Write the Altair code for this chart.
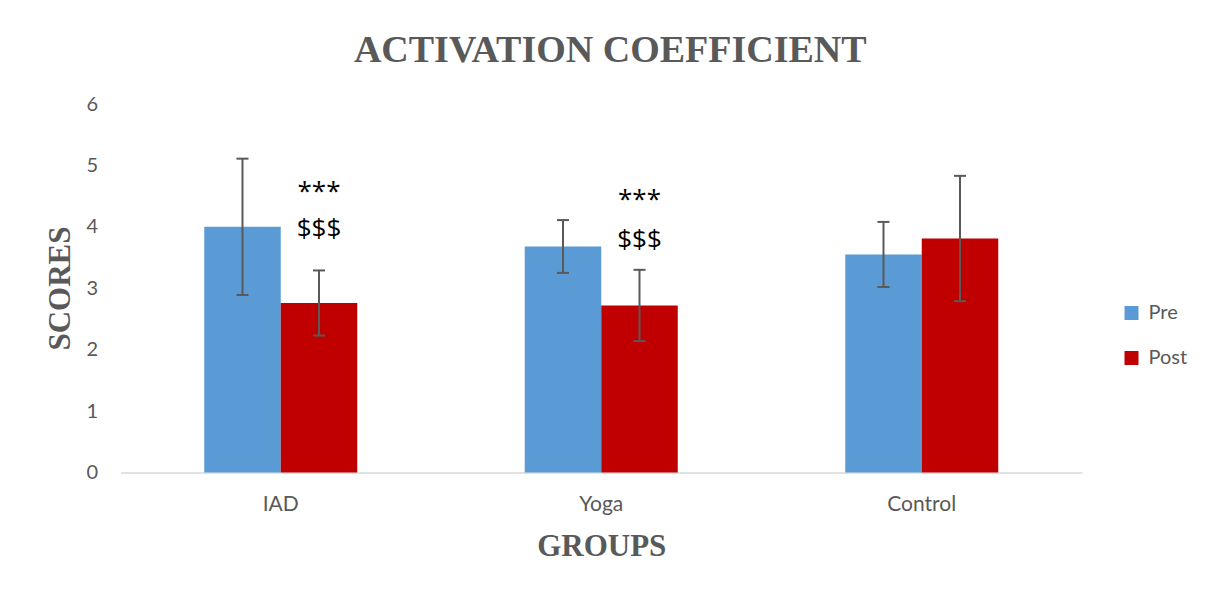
import altair as alt
import pandas as pd

groups = ["IAD", "Yoga", "Control"]
phases = ["Pre", "Post"]
pre_mean = [4.00, 3.68, 3.55]
pre_sd = [1.11, 0.43, 0.53]
post_mean = [2.76, 2.72, 3.81]
post_sd = [0.53, 0.58, 1.02]
colors = ["#5B9BD5", "#C00000"]

ann_group = ["IAD", "IAD", "Yoga", "Yoga"]
ann_phase = ["Post", "Post", "Post", "Post"]
ann_text = ["***", "$$$", "***", "$$$"]
ann_y = [4.57, 3.96, 4.44, 3.79]

y_ticks = [0, 1, 2, 3, 4, 5, 6]

rows = []
for i, g in enumerate(groups):
    rows.append(dict(group=g, phase="Pre", mean=pre_mean[i],
                     lo=pre_mean[i] - pre_sd[i], hi=pre_mean[i] + pre_sd[i]))
    rows.append(dict(group=g, phase="Post", mean=post_mean[i],
                     lo=post_mean[i] - post_sd[i], hi=post_mean[i] + post_sd[i]))
df = pd.DataFrame(rows)
ann = pd.DataFrame(dict(group=ann_group, phase=ann_phase, text=ann_text, y=ann_y))

GREY = "#595959"
LABEL_FONT = "Lato"
SERIF = "Liberation Serif"

x_axis = alt.Axis(
    title="GROUPS", titleFont=SERIF, titleFontSize=31, titleFontWeight="bold",
    titleColor=GREY, titleY=74, titleBaseline="middle",
    labelFont=LABEL_FONT, labelFontSize=21, labelColor=GREY, labelAngle=0,
    labelPadding=32, labelBaseline="middle",
    domainColor="#D9D9D9", domainWidth=1.5, ticks=False, grid=False,
)
y_axis = alt.Axis(
    values=y_ticks, title="SCORES", titleFont=SERIF, titleFontSize=31,
    titleFontWeight="bold", titleColor=GREY, titleX=-60, titleY=184,
    titleBaseline="middle", titleAngle=-90,
    labelFont=LABEL_FONT, labelFontSize=20, labelColor=GREY, labelPadding=23,
    domain=False, ticks=False, grid=False,
)
xscale = alt.Scale(paddingInner=0.5226, paddingOuter=0.2613)
yscale = alt.Scale(domain=[0, 6], nice=False)


def xe():
    return alt.X("group:N", sort=groups, scale=xscale, axis=x_axis, title="GROUPS")


def xo():
    return alt.XOffset("phase:N", sort=phases, scale=alt.Scale(paddingInner=0, paddingOuter=0))


def ye(field):
    return alt.Y(field, scale=yscale, axis=y_axis, title="SCORES")


bars = alt.Chart(df).mark_bar(stroke=None).encode(
    x=xe(),
    xOffset=xo(),
    y=ye("mean:Q"),
    color=alt.Color("phase:N", sort=phases,
                    scale=alt.Scale(domain=phases, range=colors),
                    legend=alt.Legend(
                        title=None, orient="none", legendX=1001, legendY=199,
                        symbolType="square", symbolSize=196, symbolStrokeWidth=0,
                        labelFont=LABEL_FONT, labelFontSize=20, labelColor=GREY,
                        labelOffset=7, rowPadding=25,
                    )),
)

rules = alt.Chart(df).mark_rule(color=GREY, strokeWidth=2).encode(
    x=xe(), xOffset=xo(),
    y=ye("lo:Q"),
    y2="hi:Q",
)

caps = alt.Chart(df).transform_fold(["lo", "hi"], as_=["end", "val"]).mark_tick(
    color=GREY, orient="horizontal", size=12, thickness=2, opacity=1
).encode(
    x=xe(), xOffset=xo(),
    y=ye("val:Q"),
)

texts = alt.Chart(ann).mark_text(
    font="Open Sans", fontSize=26, color="#000000", baseline="middle", align="center"
).encode(
    x=xe(), xOffset=xo(),
    y=ye("y:Q"),
    text="text:N",
)

chart = alt.layer(bars, rules, caps, texts).properties(
    width=961.5, height=368.5,
    title=alt.TitleParams(
        "ACTIVATION COEFFICIENT", font=SERIF, fontSize=38, fontWeight="bold",
        color=GREY, anchor="middle", dx=9, offset=24,
    ),
    autosize=alt.AutoSizeParams(type="none"),
    padding={"left": 112.5, "top": 96, "right": 116, "bottom": 110},
).configure(background="white").configure_view(stroke=None)

chart.save("out.html", embed_options={"renderer": "svg", "actions": False})
